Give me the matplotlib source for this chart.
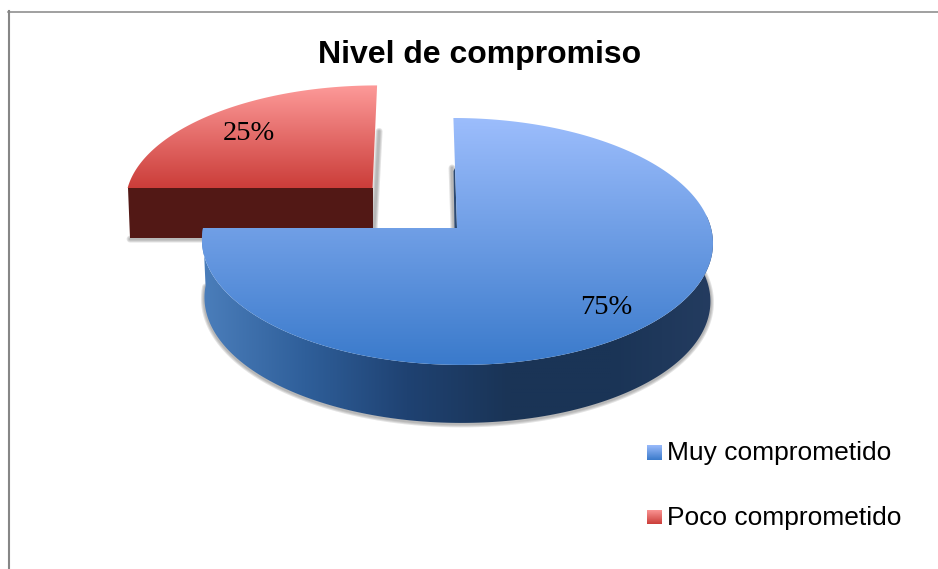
import numpy as np
import matplotlib
matplotlib.use("Agg")
import matplotlib.pyplot as plt
from matplotlib.colors import LinearSegmentedColormap
from matplotlib.patches import Polygon, Rectangle

title = "Nivel de compromiso"
categories = ["Muy comprometido", "Poco comprometido"]
values = [75, 25]
explode = [0, 0.48]

# perspective of the disc, in pixels of the figure
apex = (457, 228)
scale_x = 254
scale_y = 122
persp = 0.109
shear = -4
blue_depth = 58
red_depth = 50


def project(x, y):
    w = 1 + persp * y
    return apex[0] + (scale_x * x + shear * y) / w, apex[1] - scale_y * y / w


def rim(center, t1, t2, n=200):
    t = np.radians(np.linspace(t1, t2, n))
    return project(center[0] + np.cos(t), center[1] + np.sin(t))


def gradient(ax, patch, colors, box, horizontal=False, zorder=2):
    cmap = LinearSegmentedColormap.from_list("g", colors)
    g = np.linspace(0, 1, 256)
    g = g.reshape(1, -1) if horizontal else g.reshape(-1, 1)
    ax.add_patch(patch)
    im = ax.imshow(g, cmap=cmap, extent=box, aspect="auto", zorder=zorder, interpolation="bilinear")
    im.set_clip_path(patch)


def soft_shadow(ax, xs, ys, zorder):
    for lw in [5, 3.5, 2]:
        ax.plot(xs, ys, color="#555555", alpha=0.16, lw=lw, zorder=zorder, solid_capstyle="round")


fig = plt.figure(figsize=(9.38, 5.69), dpi=100)

# the pie itself gives the angles and the exploded centres
pie_ax = fig.add_axes([0, 0, 0.1, 0.1])
wedges, _ = pie_ax.pie(values, explode=explode, startangle=90, counterclock=False)
blue, red = wedges
pie_ax.set_visible(False)

ax = fig.add_axes([0, 0, 1, 1])
ax.set_xlim(0, 938)
ax.set_ylim(569, 0)
ax.axis("off")

# chart frame
ax.plot([9, 9], [569, 11], color="#868686", lw=1.5, zorder=1)
ax.plot([8, 938], [11.5, 11.5], color="#868686", lw=1.1, zorder=1)

# red slice
rx, ry = rim(red.center, red.theta1, red.theta2)
cx, cy = project(*red.center)
front_x = np.array([rx[-1], cx])
front_y = np.array([ry[-1], cy])
bottom_x = cx + (front_x - cx) * 0.99
soft_shadow(ax, [bottom_x[0], bottom_x[1] + 1, rx[0] + 2], [front_y[0] + red_depth + 1, front_y[1] + red_depth + 1, ry[0] + 46], 2)
ax.add_patch(Polygon(list(zip(front_x, front_y)) + list(zip(bottom_x[::-1], front_y[::-1] + red_depth)),
                     closed=True, facecolor="#521815", edgecolor="none", zorder=3))
top = Polygon(list(zip(rx, ry)) + [(cx, cy)], closed=True, facecolor="none", edgecolor="none")
gradient(ax, top, ["#FD9A99", "#CB3D39"], (120, 385, cy, ry.min()), zorder=4)

# blue slice, side first
bx, by = rim(blue.center, 180, 366)
low_x = apex[0] + (bx - apex[0]) * 0.99
low_y = by + blue_depth
soft_shadow(ax, low_x, low_y + 1, 5)
side = Polygon(list(zip(bx, by)) + list(zip(low_x[::-1], low_y[::-1])), closed=True, facecolor="none", edgecolor="none")
gradient(ax, side, ["#4B7EBB", "#2F5F9A", "#1F4272", "#1A3456", "#1A3456", "#243C60"],
         (bx.min(), bx.max(), 440, 200), horizontal=True, zorder=6)

# inner wall next to the vertical cut
tx, ty = project(0, 1)
wall_top = ty + 50
wall_x = apex[0] + (tx - apex[0]) * (apex[1] - wall_top) / (apex[1] - ty)
soft_shadow(ax, [wall_x - 3, apex[0] - 3], [wall_top, apex[1]], 5)
ax.add_patch(Polygon([(wall_x, wall_top), (wall_x - 1.5, wall_top + 3), (apex[0] - 2.5, apex[1]), apex],
                     closed=True, facecolor="#2C4A73", edgecolor="none", zorder=6))

tx2, ty2 = rim(blue.center, blue.theta1, blue.theta2)
top2 = Polygon(list(zip(tx2, ty2)) + [project(*blue.center)], closed=True, facecolor="none", edgecolor="none")
gradient(ax, top2, ["#9CBDFC", "#3A7ACB"], (195, 720, ty2.max(), ty2.min()), zorder=7)

# percent labels
ax.text(606, 307, f"{values[0]}%", family="Liberation Serif", fontsize=20.5, ha="center", va="center", zorder=9)
ax.text(249, 133, f"{values[1]}%", family="Liberation Serif", fontsize=20.5, ha="center", va="center", zorder=9)

ax.text(480, 55, title, family="Liberation Sans", fontweight="bold", fontsize=23, ha="center", va="center", zorder=9)

# legend
legend_colors = [["#9ABBFB", "#3A7ACB"], ["#FD9A99", "#CB3D39"]]
for name, cols, yy in zip(categories, legend_colors, [452.5, 517]):
    sq = Rectangle((647, yy - 7.5), 14.5, 15, facecolor="none", edgecolor="none")
    gradient(ax, sq, cols, (647, 661.5, yy + 7.5, yy - 7.5), zorder=8)
    ax.text(667, yy + 0.5, name, family="Liberation Sans", fontsize=19, ha="left", va="center", zorder=9)

ax.set_xlim(0, 938)
ax.set_ylim(569, 0)
fig.savefig("out.png", dpi=100)
